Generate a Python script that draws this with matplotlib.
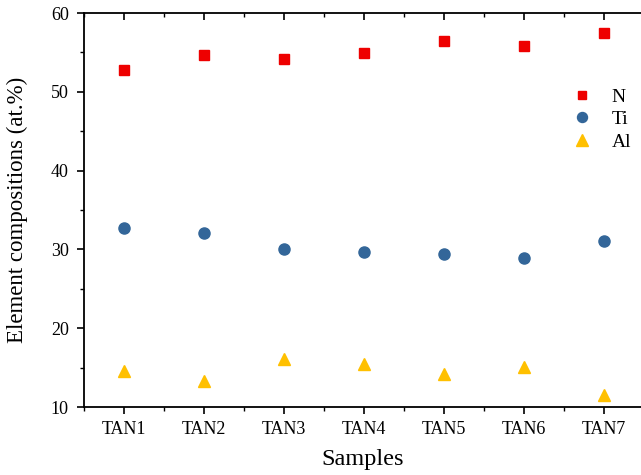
import matplotlib
matplotlib.use('Agg')
import matplotlib.pyplot as plt
import numpy as np
from matplotlib.ticker import MultipleLocator

samples = ['TAN1', 'TAN2', 'TAN3', 'TAN4', 'TAN5', 'TAN6', 'TAN7']
n_vals = [52.8, 54.7, 54.2, 54.9, 56.4, 55.8, 57.5]
ti_vals = [32.7, 32.1, 30.0, 29.7, 29.4, 28.9, 31.1]
al_vals = [14.6, 13.3, 16.1, 15.5, 14.2, 15.1, 11.5]

plt.rcParams['font.family'] = ['Liberation Serif', 'DejaVu Serif']

fig = plt.figure(figsize=(6.41, 4.75), dpi=100)
ax = fig.add_axes([84/641, 1-407/475, 1-84/641, 394/475])

x = np.arange(1, len(samples) + 1)
ax.plot(x, n_vals, 's', color='#ee0000', markersize=7, label='N', linestyle='none')
ax.plot(x, ti_vals, 'o', color='#336699', markersize=8, label='Ti', linestyle='none')
ax.plot(x, al_vals, '^', color='#ffc000', markersize=9, label='Al', linestyle='none')

ax.set_xlim(0.5, 7.46)
ax.set_ylim(10, 60)
ax.set_xticks(x)
ax.set_xticklabels(samples)
ax.xaxis.set_minor_locator(MultipleLocator(0.5))
ax.yaxis.set_major_locator(MultipleLocator(10))
ax.yaxis.set_minor_locator(MultipleLocator(5))

ax.spines['right'].set_visible(False)
for s in ['left', 'bottom', 'top']:
    ax.spines[s].set_linewidth(1.3)
ax.tick_params(axis='both', which='major', direction='out', length=5, width=1.2, labelsize=13)
ax.tick_params(axis='both', which='minor', direction='out', length=3, width=1.0)
ax.tick_params(axis='x', which='both', top=True)
ax.tick_params(axis='x', which='major', pad=5)
ax.tick_params(axis='y', which='major', pad=6)
# top ticks point into the plot
for t in ax.xaxis.get_major_ticks() + ax.xaxis.get_minor_ticks():
    t.tick2line.set_marker(3)

ax.set_xlabel('Samples', fontsize=17.5, labelpad=8)
ax.set_ylabel('Element compositions (at.%)', fontsize=16.5, labelpad=16)

fig.legend(handles=ax.get_lines(), loc='upper left', bbox_to_anchor=(572/641, 1-88/475),
           frameon=False, fontsize=14, borderpad=0, borderaxespad=0,
           handlelength=1.0, handletextpad=1.05, labelspacing=0.25, markerscale=0.9)

fig.savefig('out.png', dpi=100)
